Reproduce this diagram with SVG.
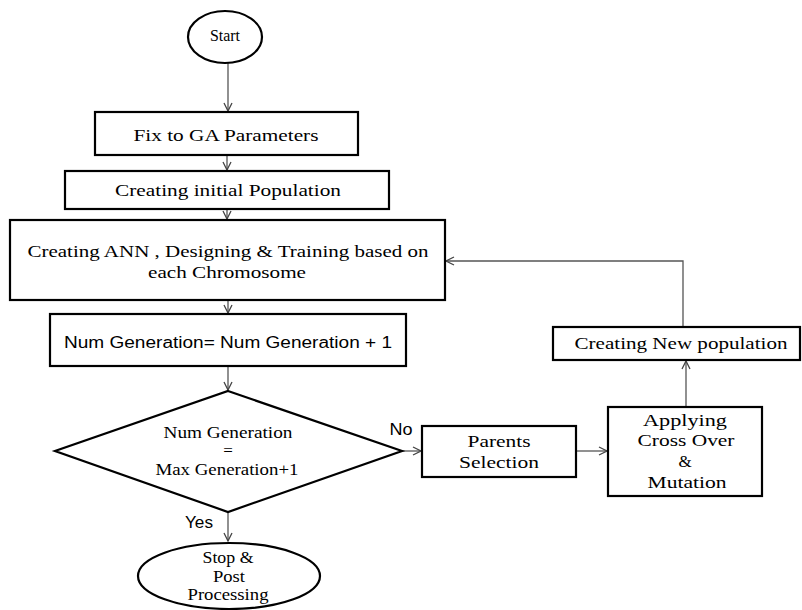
<svg xmlns="http://www.w3.org/2000/svg" width="802" height="610" viewBox="0 0 802 610">
<defs>
<marker id="arr" viewBox="0 0 10 10" refX="9" refY="5" markerWidth="10" markerHeight="10" markerUnits="userSpaceOnUse" orient="auto">
<path d="M1,1 L9,5 L1,9" fill="none" stroke="#444" stroke-width="1.3"/>
</marker>
<style>
.box{fill:#fff;stroke:#000;stroke-width:2.2}
.con{fill:none;stroke:#555;stroke-width:1.3;marker-end:url(#arr)}
.t{font-family:"Liberation Serif","Times New Roman",serif;font-size:17px;fill:#000;text-anchor:middle}
.s{font-family:"Liberation Sans",Arial,sans-serif;font-size:16px;fill:#000;text-anchor:middle}
</style>
</defs>
<rect width="802" height="610" fill="#fff"/>
<g id="connectors">
<line class="con" x1="228" y1="63" x2="228" y2="111"/>
<line class="con" x1="227" y1="155" x2="227" y2="170"/>
<line class="con" x1="227" y1="209" x2="227" y2="219"/>
<line class="con" x1="228" y1="300" x2="228" y2="313"/>
<line class="con" x1="228" y1="366" x2="228" y2="390"/>
<line class="con" x1="228" y1="512" x2="228" y2="541"/>
<line class="con" x1="402" y1="451" x2="421" y2="451"/>
<line class="con" x1="576" y1="451" x2="607" y2="451"/>
<line class="con" x1="686" y1="407" x2="686" y2="361"/>
<polyline class="con" points="683,327 683,261 446,261"/>
</g>
<g id="start">
<ellipse class="box" cx="225" cy="37" rx="37" ry="26"/>
<text class="t" x="225" y="41" font-size="11" textLength="30" lengthAdjust="spacingAndGlyphs">Start</text>
</g>
<g id="fix">
<rect class="box" x="95" y="112" width="263" height="43"/>
<text class="t" x="226" y="141" textLength="185" lengthAdjust="spacingAndGlyphs">Fix to GA Parameters</text>
</g>
<g id="initpop">
<rect class="box" x="65" y="171" width="324" height="38"/>
<text class="t" x="228" y="196" textLength="226" lengthAdjust="spacingAndGlyphs">Creating initial Population</text>
</g>
<g id="ann">
<rect class="box" x="10" y="220" width="435" height="80"/>
<text class="t" x="228" y="257" textLength="401" lengthAdjust="spacingAndGlyphs">Creating ANN , Designing &amp; Training based on</text>
<text class="t" x="227" y="278" textLength="158" lengthAdjust="spacingAndGlyphs">each Chromosome</text>
</g>
<g id="numgen">
<rect class="box" x="50" y="314" width="356" height="52"/>
<text class="s" x="228" y="348" textLength="328" lengthAdjust="spacingAndGlyphs">Num Generation= Num Generation + 1</text>
</g>
<g id="decision">
<polygon class="box" points="228,391 402,451 228,512 55,451"/>
<text class="t" x="228" y="438" font-size="15" textLength="129" lengthAdjust="spacingAndGlyphs">Num Generation</text>
<text class="t" x="228" y="456" font-size="15">=</text>
<text class="t" x="227" y="475" font-size="15" textLength="143" lengthAdjust="spacingAndGlyphs">Max Generation+1</text>
</g>
<g id="labels">
<text class="s" x="199" y="528" font-size="15" textLength="28" lengthAdjust="spacingAndGlyphs">Yes</text>
<text class="s" x="401" y="435" font-size="15" textLength="23" lengthAdjust="spacingAndGlyphs">No</text>
</g>
<g id="stop">
<ellipse class="box" cx="229" cy="576" rx="91" ry="33"/>
<text class="t" x="228" y="563" font-size="15" textLength="51" lengthAdjust="spacingAndGlyphs">Stop &amp;</text>
<text class="t" x="229" y="582" font-size="15" textLength="32" lengthAdjust="spacingAndGlyphs">Post</text>
<text class="t" x="228" y="600" font-size="15" textLength="81" lengthAdjust="spacingAndGlyphs">Processing</text>
</g>
<g id="parents">
<rect class="box" x="422" y="426" width="154" height="51"/>
<text class="t" x="499" y="447" textLength="63" lengthAdjust="spacingAndGlyphs">Parents</text>
<text class="t" x="499" y="468" textLength="80" lengthAdjust="spacingAndGlyphs">Selection</text>
</g>
<g id="applying">
<rect class="box" x="608" y="407" width="154" height="89"/>
<text class="t" x="685" y="426" textLength="84" lengthAdjust="spacingAndGlyphs">Applying</text>
<text class="t" x="686" y="446" textLength="97" lengthAdjust="spacingAndGlyphs">Cross Over</text>
<text class="t" x="685" y="467">&amp;</text>
<text class="t" x="687" y="488" textLength="79" lengthAdjust="spacingAndGlyphs">Mutation</text>
</g>
<g id="newpop">
<rect class="box" x="553" y="327" width="247" height="33"/>
<text class="t" x="681" y="349" textLength="213" lengthAdjust="spacingAndGlyphs">Creating New population</text>
</g>
</svg>
